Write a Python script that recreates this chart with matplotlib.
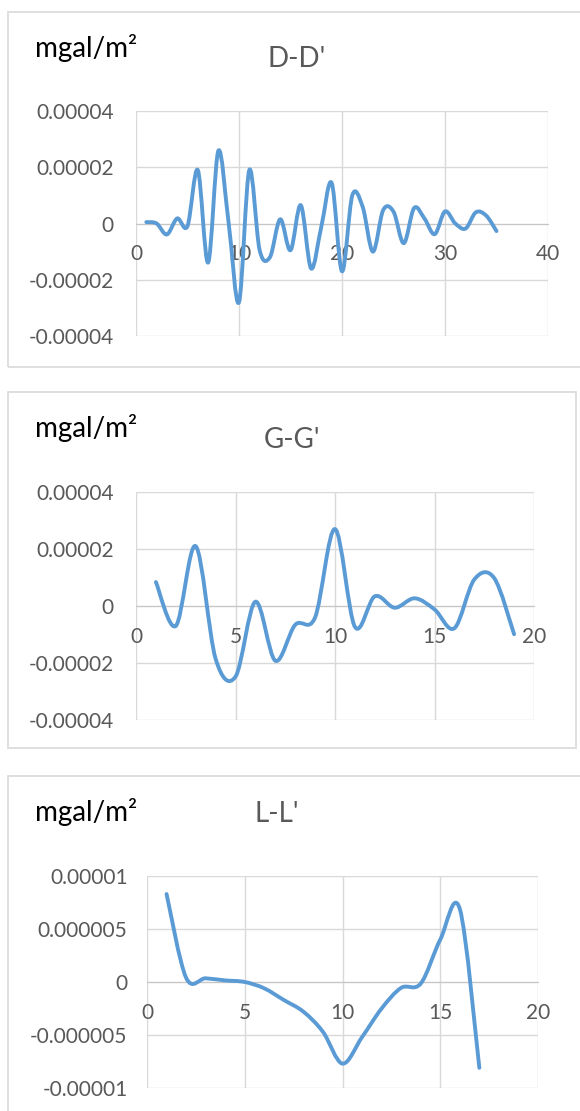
import matplotlib
matplotlib.use("Agg")
import matplotlib.pyplot as plt
from matplotlib.path import Path
from matplotlib.patches import PathPatch, Rectangle

plt.rcParams["font.family"] = ["Lato", "DejaVu Sans"]

W, H = 580, 1111
BLUE = "#5B9BD5"
GRID = "#d9d9d9"
AXIS = "#c6c6c6"
TEXT = "#595959"
UNIT = "mgal/m\u00b2"

# D-D' profile
dd_x = list(range(1, 36))
dd_y = [0.5e-6, 0.0, -3.9e-6, 1.8e-6, -0.9e-6, 19.0e-6, -13.9e-6, 25.9e-6, 0.0, -28.0e-6,
        19.0e-6, -9.4e-6, -12.0e-6, 1.5e-6, -9.5e-6, 6.5e-6, -16.0e-6, -1.0e-6, 14.4e-6, -17.0e-6,
        10.0e-6, 6.0e-6, -10.0e-6, 4.8e-6, 4.2e-6, -7.0e-6, 5.5e-6, 1.8e-6, -3.8e-6, 4.3e-6,
        0.0, -1.8e-6, 4.0e-6, 2.8e-6, -2.7e-6]
dd_xticks = [0, 10, 20, 30, 40]
dd_yticks = [-0.00004, -0.00002, 0.0, 0.00002, 0.00004]
dd_ylabels = ["-0.00004", "-0.00002", "0", "0.00002", "0.00004"]

# G-G' profile
gg_x = list(range(1, 20))
gg_y = [8.4e-6, -7.0e-6, 21.0e-6, -18.5e-6, -24.8e-6, 1.5e-6, -19.2e-6, -6.6e-6, -4.0e-6, 27.0e-6,
        -7.3e-6, 3.4e-6, -0.6e-6, 2.7e-6, -1.2e-6, -7.8e-6, 9.3e-6, 9.8e-6, -9.9e-6]
gg_xticks = [0, 5, 10, 15, 20]
gg_yticks = [-0.00004, -0.00002, 0.0, 0.00002, 0.00004]
gg_ylabels = ["-0.00004", "-0.00002", "0", "0.00002", "0.00004"]

# L-L' profile
ll_x = list(range(1, 18))
ll_y = [8.3e-6, 0.4e-6, 0.35e-6, 0.15e-6, 0.0, -0.6e-6, -1.7e-6, -2.8e-6, -4.7e-6, -7.7e-6,
        -5.2e-6, -2.5e-6, -0.55e-6, -0.15e-6, 4.0e-6, 6.9e-6, -8.1e-6]
ll_xticks = [0, 5, 10, 15, 20]
ll_yticks = [-0.00001, -0.000005, 0.0, 0.000005, 0.00001]
ll_ylabels = ["-0.00001", "-0.000005", "0", "0.000005", "0.00001"]


def fx(px):
    return px / W


def fy(py):
    return 1 - py / H


def smooth_path(xs, ys):
    # excel style smoothed line: catmull-rom segments as cubic beziers
    pts = list(zip(xs, ys))
    n = len(pts)
    verts = [pts[0]]
    codes = [Path.MOVETO]
    for i in range(n - 1):
        p0 = pts[max(i - 1, 0)]
        p1 = pts[i]
        p2 = pts[i + 1]
        p3 = pts[min(i + 2, n - 1)]
        c1 = (p1[0] + (p2[0] - p0[0]) / 6, p1[1] + (p2[1] - p0[1]) / 6)
        c2 = (p2[0] - (p3[0] - p1[0]) / 6, p2[1] - (p3[1] - p1[1]) / 6)
        verts += [c1, c2, p2]
        codes += [Path.CURVE4] * 3
    return Path(verts, codes)


def draw_panel(fig, box, plot, xs, ys, xticks, yticks, ylabels, title, title_pos, ypad):
    bx0, by0, bx1, by1 = box
    fig.patches.append(Rectangle((fx(bx0), fy(by1)), fx(bx1 - bx0), (by1 - by0) / H,
                                 transform=fig.transFigure, fill=False,
                                 edgecolor=GRID, lw=1.2, zorder=0))

    px0, py0, px1, py1 = plot
    ax = fig.add_axes([fx(px0), fy(py1), fx(px1 - px0), (py1 - py0) / H])
    ax.set_xlim(xticks[0], xticks[-1])
    ax.set_ylim(yticks[0], yticks[-1])
    ax.set_xticks(xticks, labels=[str(t) for t in xticks])
    ax.set_yticks(yticks, labels=ylabels)
    ax.set_axisbelow(True)
    ax.grid(color=GRID, lw=1.0)
    for spine in ax.spines.values():
        spine.set_visible(False)
    ax.spines["bottom"].set_visible(True)
    ax.spines["bottom"].set_position(("data", 0))
    ax.spines["bottom"].set_color(AXIS)
    ax.tick_params(length=0, labelsize=15, labelcolor=TEXT)
    ax.tick_params(axis="x", pad=15)
    ax.tick_params(axis="y", pad=ypad)

    ax.add_patch(PathPatch(smooth_path(xs, ys), fill=False, edgecolor=BLUE, lw=2.8,
                           capstyle="round", joinstyle="round", zorder=3))

    fig.text(fx(35), fy(by0 + 45), UNIT, fontsize=20, color="black", va="baseline")
    tx, ty = title_pos
    fig.text(fx(tx), fy(ty), title, fontsize=20, color=TEXT, ha="center", va="baseline")
    return ax


def main():
    fig = plt.figure(figsize=(W / 100, H / 100), dpi=100)

    draw_panel(fig, (8, 12, 600, 367), (136, 111, 548, 336), dd_x, dd_y,
               dd_xticks, dd_yticks, dd_ylabels, "D-D'", (297, 67), 16)
    draw_panel(fig, (8, 392, 576, 748), (136, 492, 534, 720), gg_x, gg_y,
               gg_xticks, gg_yticks, gg_ylabels, "G-G'", (292, 448), 16)
    draw_panel(fig, (8, 776, 600, 1130), (147, 876, 538, 1088), ll_x, ll_y,
               ll_xticks, ll_yticks, ll_ylabels, "L-L'", (277, 822), 14)

    fig.savefig("out.png", dpi=100)
    plt.close(fig)


if __name__ == "__main__":
    main()
